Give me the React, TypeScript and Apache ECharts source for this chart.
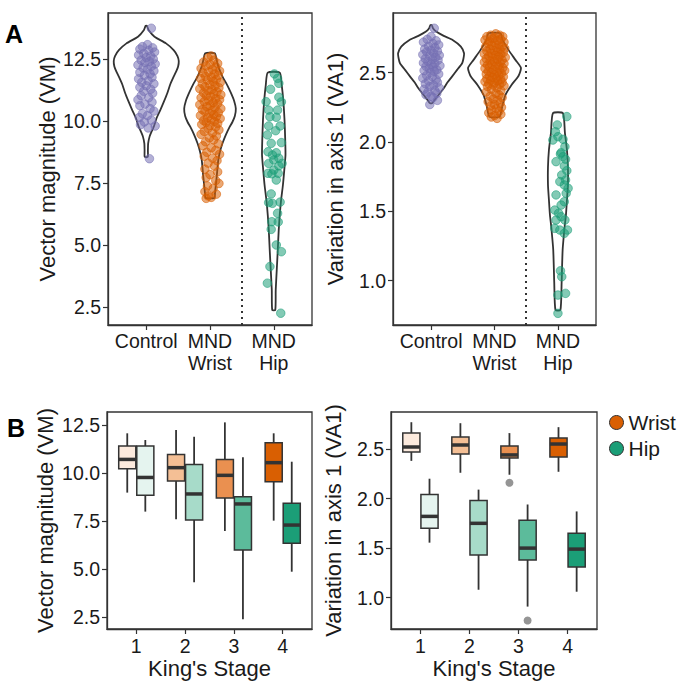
import React, { useEffect, useRef } from 'react';
import * as echarts from 'echarts';

// ---------- categories / ticks ----------
const groupLabels = ['Control', 'MND\nWrist', 'MND\nHip'];
const groupCenters = [1, 2, 3];
const vmTicks = [2.5, 5.0, 7.5, 10.0, 12.5];
const vaTicks = [1.0, 1.5, 2.0, 2.5];
const stageLabels = ['1', '2', '3', '4'];
const stages = [1, 2, 3, 4];

// ---------- violin outlines: [value, half-width in category units] ----------
const violinControlVM = [[13.84, 0.01], [13.67, 0.036], [13.4, 0.13], [13.13, 0.31], [12.86, 0.43], [12.62, 0.49], [12.42, 0.51], [12.2, 0.5], [12.0, 0.47], [11.79, 0.43], [11.5, 0.38], [11.12, 0.33], [10.8, 0.28], [10.44, 0.22], [10.1, 0.16], [9.77, 0.118], [9.55, 0.08], [9.37, 0.052], [9.1, 0.03], [8.8, 0.026], [8.55, 0.024]];
const violinWristVM = [[12.73, 0.075], [12.5, 0.1], [12.2, 0.13], [11.79, 0.196], [11.45, 0.27], [11.12, 0.33], [10.8, 0.38], [10.5, 0.405], [10.2, 0.39], [9.95, 0.35], [9.77, 0.31], [9.45, 0.25], [9.1, 0.196], [8.75, 0.155], [8.43, 0.13], [7.75, 0.105], [7.08, 0.078], [6.9, 0.07]];
const violinHipVM = [[11.95, 0.094], [11.45, 0.125], [10.85, 0.149], [10.04, 0.169], [9.23, 0.18], [8.63, 0.184], [8.02, 0.165], [7.42, 0.144], [6.81, 0.115], [6.21, 0.094], [5.6, 0.078], [4.79, 0.063], [3.99, 0.047], [3.19, 0.031], [2.38, 0.024]];
const violinControlVA = [[2.844, 0.01], [2.82, 0.03], [2.796, 0.08], [2.765, 0.2], [2.736, 0.34], [2.688, 0.47], [2.64, 0.52], [2.6, 0.51], [2.568, 0.49], [2.52, 0.41], [2.471, 0.33], [2.43, 0.26], [2.387, 0.2], [2.34, 0.12], [2.3, 0.05], [2.281, 0.02]];
const violinWristVA = [[2.784, 0.094], [2.736, 0.126], [2.664, 0.22], [2.592, 0.33], [2.534, 0.417], [2.476, 0.378], [2.411, 0.268], [2.339, 0.173], [2.267, 0.126], [2.183, 0.079]];
const violinHipVA = [[2.207, 0.079], [2.065, 0.11], [1.942, 0.142], [1.82, 0.157], [1.69, 0.157], [1.582, 0.142], [1.473, 0.126], [1.387, 0.105], [1.221, 0.074], [0.983, 0.058], [0.788, 0.039]];

// ---------- jittered points: [x offset from group centre, value] ----------
const controlVM = [[0.08, 13.74], [0.05, 8.48], [0.02, 13.08], [-0.06, 13.0], [0.1, 12.95], [-0.1, 12.9], [0.04, 12.85], [0.13, 12.78], [-0.04, 12.72], [-0.12, 12.66], [0.07, 12.62], [0.0, 12.56], [0.11, 12.5], [-0.08, 12.45], [0.05, 12.4], [-0.02, 12.36], [0.14, 12.3], [-0.13, 12.26], [0.08, 12.2], [-0.05, 12.14], [0.02, 12.08], [0.12, 12.02], [-0.1, 11.96], [0.06, 11.9], [-0.03, 11.84], [0.09, 11.76], [-0.12, 11.7], [0.03, 11.62], [-0.07, 11.56], [0.12, 11.5], [0.0, 11.42], [-0.1, 11.36], [0.07, 11.28], [-0.04, 11.2], [0.1, 11.12], [-0.08, 11.02], [0.04, 10.94], [-0.13, 10.86], [0.09, 10.76], [-0.02, 10.68], [-0.1, 10.62], [0.06, 10.5], [0.12, 10.4], [-0.06, 10.3], [0.02, 10.22], [-0.11, 10.14], [0.08, 10.04], [-0.03, 9.96], [0.14, 9.8], [-0.09, 9.85], [0.03, 9.72]];
const wristVM = [[0.02, 12.62], [-0.03, 12.55], [0.06, 12.45], [-0.1, 12.38], [0.12, 12.32], [0.0, 12.28], [-0.06, 12.22], [0.09, 12.18], [-0.14, 12.12], [0.04, 12.08], [0.15, 12.02], [-0.02, 11.98], [-0.11, 11.94], [0.07, 11.9], [0.13, 11.84], [-0.07, 11.8], [0.02, 11.76], [-0.15, 11.72], [0.1, 11.68], [-0.04, 11.64], [0.05, 11.6], [0.16, 11.55], [-0.12, 11.5], [0.0, 11.46], [0.08, 11.42], [-0.08, 11.38], [0.14, 11.34], [-0.16, 11.3], [0.03, 11.26], [-0.03, 11.22], [0.11, 11.18], [-0.1, 11.14], [0.06, 11.1], [0.17, 11.06], [-0.06, 11.02], [0.01, 10.98], [-0.14, 10.94], [0.09, 10.9], [0.15, 10.86], [-0.02, 10.82], [-0.09, 10.78], [0.05, 10.74], [0.12, 10.7], [-0.16, 10.66], [0.0, 10.62], [-0.05, 10.58], [0.08, 10.54], [0.17, 10.5], [-0.12, 10.46], [0.03, 10.42], [-0.08, 10.38], [0.13, 10.34], [-0.01, 10.3], [0.06, 10.26], [-0.15, 10.22], [0.1, 10.18], [-0.04, 10.14], [0.16, 10.1], [0.02, 10.06], [-0.1, 10.02], [0.07, 9.98], [-0.06, 9.94], [0.12, 9.9], [-0.13, 9.86], [0.0, 9.82], [0.09, 9.76], [-0.03, 9.7], [0.14, 9.64], [-0.09, 9.58], [0.04, 9.52], [-0.14, 9.46], [0.1, 9.4], [-0.01, 9.32], [0.06, 9.24], [-0.07, 9.16], [0.13, 9.08], [-0.11, 9.0], [0.02, 8.92], [0.09, 8.82], [-0.05, 8.74], [0.15, 8.66], [-0.09, 8.58], [0.04, 8.5], [0.11, 8.4], [-0.03, 8.3], [0.07, 8.18], [-0.08, 8.06], [0.12, 7.95], [0.0, 7.84], [-0.06, 7.72], [0.09, 7.6], [0.14, 7.48], [-0.04, 7.38], [0.05, 7.28], [-0.08, 7.15], [0.1, 7.05], [-0.03, 6.98], [-0.06, 6.88], [0.02, 6.92]];
const hipVM = [[0.01, 11.9], [0.06, 11.72], [0.08, 11.52], [-0.05, 11.28], [0.08, 10.96], [-0.12, 10.78], [0.12, 10.77], [-0.08, 10.44], [0.06, 10.44], [-0.06, 10.17], [0.04, 10.15], [-0.08, 9.8], [0.1, 9.8], [0.03, 9.61], [-0.1, 9.44], [-0.04, 9.1], [0.12, 9.13], [-0.09, 8.76], [0.04, 8.72], [-0.02, 8.63], [0.0, 8.43], [0.08, 8.5], [-0.08, 8.29], [0.13, 8.29], [0.08, 8.19], [0.0, 8.02], [-0.09, 7.89], [0.07, 7.89], [-0.03, 7.87], [0.04, 7.62], [-0.04, 7.06], [-0.08, 6.71], [0.1, 6.73], [-0.02, 6.68], [0.06, 6.28], [-0.03, 5.94], [0.07, 5.93], [-0.04, 5.63], [0.04, 5.0], [0.12, 4.73], [-0.06, 4.13], [-0.1, 3.46], [0.11, 2.25]];
const controlVA = [[0.05, 2.82], [-0.02, 2.27], [0.1, 2.3], [0.0, 2.76], [-0.06, 2.74], [0.08, 2.73], [-0.12, 2.72], [0.03, 2.71], [0.12, 2.7], [-0.04, 2.69], [0.06, 2.68], [-0.1, 2.67], [0.0, 2.66], [0.1, 2.655], [-0.07, 2.65], [0.04, 2.64], [-0.13, 2.63], [0.13, 2.625], [-0.02, 2.62], [0.07, 2.61], [-0.09, 2.6], [0.02, 2.595], [0.11, 2.59], [-0.05, 2.58], [-0.12, 2.57], [0.06, 2.565], [0.0, 2.56], [0.14, 2.55], [-0.08, 2.545], [0.03, 2.54], [-0.03, 2.53], [0.09, 2.52], [-0.11, 2.515], [0.05, 2.51], [-0.01, 2.5], [0.12, 2.49], [-0.07, 2.48], [0.02, 2.47], [-0.13, 2.46], [0.08, 2.45], [-0.04, 2.44], [0.1, 2.43], [-0.09, 2.42], [0.04, 2.41], [-0.02, 2.4], [0.13, 2.39], [-0.11, 2.38], [0.06, 2.37], [-0.05, 2.36], [0.09, 2.35], [0.0, 2.33], [-0.08, 2.34], [0.03, 2.32]];
const wristVA = [[0.02, 2.78], [-0.06, 2.77], [0.08, 2.77], [-0.12, 2.76], [0.13, 2.76], [0.0, 2.75], [-0.03, 2.745], [0.1, 2.74], [-0.15, 2.735], [0.05, 2.73], [-0.08, 2.725], [0.15, 2.72], [0.0, 2.715], [-0.1, 2.71], [0.07, 2.7], [-0.04, 2.695], [0.12, 2.69], [-0.14, 2.685], [0.03, 2.68], [0.16, 2.675], [-0.07, 2.67], [0.09, 2.665], [-0.01, 2.66], [-0.12, 2.655], [0.05, 2.65], [0.14, 2.645], [-0.05, 2.64], [-0.16, 2.635], [0.1, 2.63], [0.01, 2.625], [-0.09, 2.62], [0.07, 2.615], [0.17, 2.61], [-0.03, 2.605], [-0.13, 2.6], [0.04, 2.595], [0.12, 2.59], [-0.07, 2.585], [0.0, 2.58], [-0.16, 2.575], [0.09, 2.57], [0.15, 2.565], [-0.04, 2.56], [-0.11, 2.555], [0.06, 2.55], [0.02, 2.545], [-0.08, 2.54], [0.13, 2.535], [-0.15, 2.53], [0.08, 2.525], [-0.02, 2.52], [0.16, 2.515], [-0.1, 2.51], [0.04, 2.505], [-0.05, 2.5], [0.11, 2.495], [-0.13, 2.49], [0.0, 2.485], [0.07, 2.48], [-0.08, 2.475], [0.14, 2.47], [-0.03, 2.465], [0.03, 2.46], [-0.12, 2.455], [0.1, 2.45], [-0.06, 2.445], [0.05, 2.44], [-0.15, 2.435], [0.12, 2.43], [0.0, 2.425], [-0.09, 2.42], [0.08, 2.415], [-0.02, 2.41], [0.15, 2.405], [-0.11, 2.4], [0.04, 2.39], [-0.05, 2.38], [0.1, 2.37], [-0.13, 2.36], [0.02, 2.35], [0.07, 2.34], [-0.07, 2.33], [0.12, 2.32], [-0.02, 2.31], [0.05, 2.3], [-0.1, 2.29], [0.09, 2.28], [0.0, 2.27], [-0.06, 2.26], [0.11, 2.25], [0.03, 2.24], [-0.04, 2.23], [0.07, 2.22], [-0.09, 2.21], [0.1, 2.2], [0.0, 2.19], [-0.05, 2.18], [0.04, 2.17]];
const hipVA = [[0.14, 2.183], [-0.01, 2.123], [-0.04, 2.074], [0.0, 2.038], [0.08, 2.019], [-0.08, 2.014], [0.11, 1.966], [0.05, 1.923], [0.04, 1.913], [0.08, 1.894], [0.12, 1.875], [-0.03, 1.858], [0.1, 1.827], [0.14, 1.793], [0.06, 1.762], [0.12, 1.726], [0.03, 1.714], [0.1, 1.69], [0.16, 1.666], [0.13, 1.63], [-0.03, 1.618], [0.1, 1.569], [0.05, 1.545], [-0.05, 1.509], [0.01, 1.486], [0.05, 1.461], [0.11, 1.437], [-0.03, 1.437], [-0.05, 1.377], [0.03, 1.365], [0.15, 1.365], [0.1, 1.341], [0.04, 1.071], [0.06, 1.028], [0.0, 0.896], [0.12, 0.908], [0.0, 0.764]];

// ---------- box plots by King's stage ----------
const wristVMMin = [8.98, 7.59, 6.98, 7.52];
const wristVMQ1 = [10.23, 9.58, 8.7, 9.55];
const wristVMMed = [10.71, 10.28, 9.88, 10.54];
const wristVMQ3 = [11.41, 10.97, 10.71, 11.58];
const wristVMMax = [12.07, 12.24, 12.64, 12.07];
const hipVMMin = [7.99, 4.31, 2.38, 4.86];
const hipVMQ1 = [8.84, 7.55, 5.99, 6.34];
const hipVMMed = [9.77, 8.91, 8.39, 7.29];
const hipVMQ3 = [11.41, 10.45, 8.77, 8.42];
const hipVMMax = [11.72, 11.89, 10.82, 10.59];
const wristVAMin = [2.38, 2.26, 2.24, 2.27];
const wristVAQ1 = [2.47, 2.45, 2.41, 2.42];
const wristVAMed = [2.52, 2.54, 2.44, 2.55];
const wristVAQ3 = [2.66, 2.62, 2.53, 2.61];
const wristVAMax = [2.77, 2.76, 2.66, 2.72];
const hipVAMin = [1.555, 1.08, 0.91, 1.06];
const hipVAQ1 = [1.7, 1.43, 1.38, 1.31];
const hipVAMed = [1.82, 1.75, 1.5, 1.49];
const hipVAQ3 = [2.04, 1.98, 1.78, 1.65];
const hipVAMax = [2.2, 2.09, 1.94, 1.87];
const wristVAOutliers = [[3, 2.16]];
const hipVAOutliers = [[3, 0.77]];

// ---------- styles ----------
const FONT = '"Liberation Sans", Arial, sans-serif';
const INK = '#1a1a1a';
const LINE = '#333333';
const C_CONTROL = '#7570B3';
const C_WRIST = '#D95F02';
const C_HIP = '#1B9E77';
const wristFills = ['#FCEADD', '#F4BF95', '#EA9050', '#D95F02'];
const hipFills = ['#E5F4EF', '#A7DBC9', '#5CBB9B', '#1B9E77'];
const DODGE = 0.185;
const BOX_W = 0.35;

function hexA(hex: string, a: number) {
  const n = parseInt(hex.slice(1), 16);
  return `rgba(${(n >> 16) & 255},${(n >> 8) & 255},${n & 255},${a})`;
}

function xAxisGroups(gi: number) {
  return {
    type: 'value', gridIndex: gi, min: 0.4, max: 3.6,
    splitLine: { show: false },
    axisLine: { show: true, lineStyle: { color: LINE, width: 1.3 } },
    axisTick: { show: true, length: 5, customValues: groupCenters, lineStyle: { color: LINE, width: 1.2 } },
    axisLabel: {
      customValues: groupCenters, margin: 5, fontSize: 19.5, lineHeight: 22, color: INK, fontFamily: FONT,
      verticalAlign: 'top',
      formatter: (v: number) => groupLabels[Math.round(v) - 1] || '',
    },
  };
}
function xAxisStages(gi: number) {
  return {
    type: 'value', gridIndex: gi, min: 0.4, max: 4.6,
    splitLine: { show: false },
    axisLine: { show: true, lineStyle: { color: LINE, width: 1.3 } },
    axisTick: { show: true, length: 5, customValues: stages, lineStyle: { color: LINE, width: 1.2 } },
    axisLabel: {
      customValues: stages, margin: 7, fontSize: 19.5, color: INK, fontFamily: FONT,
      formatter: (v: number) => stageLabels[Math.round(v) - 1] || '',
    },
    name: "King's Stage", nameLocation: 'middle', nameGap: 28,
    nameTextStyle: { fontSize: 22, color: INK, fontFamily: FONT },
  };
}
function yAxis(gi: number, min: number, max: number, ticks: number[], name: string, gap: number) {
  return {
    type: 'value', gridIndex: gi, min, max,
    splitLine: { show: false },
    axisLine: { show: true, lineStyle: { color: LINE, width: 1.3 } },
    axisTick: { show: true, length: 5, customValues: ticks, lineStyle: { color: LINE, width: 1.2 } },
    axisLabel: {
      customValues: ticks, margin: 7, fontSize: 19.5, color: INK, fontFamily: FONT,
      formatter: (v: number) => v.toFixed(1),
    },
    name, nameLocation: 'middle', nameGap: gap,
    nameTextStyle: { fontSize: 22, color: INK, fontFamily: FONT, lineHeight: 24 },
  };
}

function violinSeries(profile: number[][], center: number, idx: number) {
  return {
    type: 'custom', xAxisIndex: idx, yAxisIndex: idx, silent: true, clip: true, z: 2,
    data: [[center, profile[0][0]]],
    renderItem: (_p: any, api: any) => {
      const c = api.value(0);
      const left = profile.map(([v, h]) => api.coord([c - h, v]));
      const right = profile.slice().reverse().map(([v, h]) => api.coord([c + h, v]));
      return {
        type: 'polygon',
        shape: { points: left.concat(right), smooth: 0.2 },
        style: { fill: 'none', stroke: LINE, lineWidth: 1.8 },
      };
    },
  };
}

function pointSeries(pts: number[][], center: number, color: string, idx: number, markLine?: boolean) {
  const s: any = {
    type: 'scatter', xAxisIndex: idx, yAxisIndex: idx, silent: true, z: 3,
    symbolSize: 8.5,
    itemStyle: { color: hexA(color, 0.68), borderColor: hexA(color, 0.9), borderWidth: 0.8 },
    data: pts.map(([o, v]) => [center + o, v]),
  };
  if (markLine) {
    s.markLine = {
      symbol: 'none', silent: true, label: { show: false },
      lineStyle: { color: LINE, width: 2, type: [2, 4] },
      data: [{ xAxis: 2.5 }],
    };
  }
  return s;
}

function boxSeries(name: string, mins: number[], q1s: number[], meds: number[], q3s: number[], maxs: number[],
  fills: string[], offset: number, idx: number, base: string) {
  return {
    type: 'custom', name, xAxisIndex: idx, yAxisIndex: idx, clip: true, z: 2,
    itemStyle: { color: base, borderColor: LINE, borderWidth: 1 },
    encode: { x: 0, y: [1, 2, 3, 4, 5] },
    data: stages.map((s, i) => [s, mins[i], q1s[i], meds[i], q3s[i], maxs[i], i]),
    renderItem: (_p: any, api: any) => {
      const x = api.value(0) + offset;
      const pMin = api.coord([x, api.value(1)]);
      const pQ1 = api.coord([x, api.value(2)]);
      const pMed = api.coord([x, api.value(3)]);
      const pQ3 = api.coord([x, api.value(4)]);
      const pMax = api.coord([x, api.value(5)]);
      const w = api.size([BOX_W, 0])[0];
      const fill = fills[api.value(6)];
      return {
        type: 'group',
        children: [
          { type: 'line', shape: { x1: pMin[0], y1: pMin[1], x2: pMax[0], y2: pMax[1] }, style: { stroke: LINE, lineWidth: 1.8 } },
          { type: 'rect', shape: { x: pQ3[0] - w / 2, y: pQ3[1], width: w, height: pQ1[1] - pQ3[1] }, style: { fill, stroke: LINE, lineWidth: 1.5 } },
          { type: 'line', shape: { x1: pMed[0] - w / 2, y1: pMed[1], x2: pMed[0] + w / 2, y2: pMed[1] }, style: { stroke: LINE, lineWidth: 3.5 } },
        ],
      };
    },
  };
}

function outlierSeries(pts: number[][], offset: number, idx: number) {
  return {
    type: 'scatter', xAxisIndex: idx, yAxisIndex: idx, silent: true, z: 4,
    symbolSize: 8, itemStyle: { color: '#7a7a7a' },
    data: pts.map(([s, v]) => [s + offset, v]),
  };
}

export default function App() {
  const ref = useRef<HTMLDivElement>(null);
  useEffect(() => {
    if (!ref.current) return;
    const chart = echarts.init(ref.current, undefined, { renderer: 'svg' });
    const gridBase = { show: true, borderColor: LINE, borderWidth: 1.3, backgroundColor: 'transparent', containLabel: false };
    chart.setOption({
      animation: false,
      textStyle: { fontFamily: FONT },
      grid: [
        { ...gridBase, left: 108, top: 13, width: 204, height: 312 },
        { ...gridBase, left: 393, top: 13, width: 203, height: 312 },
        { ...gridBase, left: 107, top: 412, width: 205, height: 217 },
        { ...gridBase, left: 391, top: 412, width: 206, height: 217 },
      ],
      xAxis: [xAxisGroups(0), xAxisGroups(1), xAxisStages(2), xAxisStages(3)],
      yAxis: [
        yAxis(0, 1.774, 14.355, vmTicks, 'Vector magnitude (VM)', 49),
        yAxis(1, 0.68, 2.93, vaTicks, 'Variation in axis 1 (VA1)', 46),
        yAxis(2, 1.875, 13.18, vmTicks, 'Vector magnitude (VM)', 50),
        yAxis(3, 0.684, 2.873, vaTicks, 'Variation in axis 1 (VA1)', 46),
      ],
      legend: {
        orient: 'vertical', left: 609, top: 412, padding: 0, itemGap: 5,
        itemWidth: 14, itemHeight: 14, selectedMode: false,
        itemStyle: { borderColor: LINE, borderWidth: 1 },
        textStyle: { fontSize: 21, color: INK, fontFamily: FONT },
        data: [{ name: 'Wrist', icon: 'circle' }, { name: 'Hip', icon: 'circle' }],
      },
      graphic: [
        { type: 'text', style: { text: 'A', x: 5, y: 33.5, verticalAlign: 'middle', font: `bold 25px ${FONT}`, fill: '#000' } },
        { type: 'text', style: { text: 'B', x: 7, y: 427.5, verticalAlign: 'middle', font: `bold 25px ${FONT}`, fill: '#000' } },
      ],
      series: [
        violinSeries(violinControlVM, 1, 0),
        violinSeries(violinWristVM, 2, 0),
        violinSeries(violinHipVM, 3, 0),
        pointSeries(controlVM, 1, C_CONTROL, 0, true),
        pointSeries(wristVM, 2, C_WRIST, 0),
        pointSeries(hipVM, 3, C_HIP, 0),
        violinSeries(violinControlVA, 1, 1),
        violinSeries(violinWristVA, 2, 1),
        violinSeries(violinHipVA, 3, 1),
        pointSeries(controlVA, 1, C_CONTROL, 1, true),
        pointSeries(wristVA, 2, C_WRIST, 1),
        pointSeries(hipVA, 3, C_HIP, 1),
        boxSeries('Wrist', wristVMMin, wristVMQ1, wristVMMed, wristVMQ3, wristVMMax, wristFills, -DODGE, 2, C_WRIST),
        boxSeries('Hip', hipVMMin, hipVMQ1, hipVMMed, hipVMQ3, hipVMMax, hipFills, DODGE, 2, C_HIP),
        boxSeries('Wrist', wristVAMin, wristVAQ1, wristVAMed, wristVAQ3, wristVAMax, wristFills, -DODGE, 3, C_WRIST),
        boxSeries('Hip', hipVAMin, hipVAQ1, hipVAMed, hipVAQ3, hipVAMax, hipFills, DODGE, 3, C_HIP),
        outlierSeries(wristVAOutliers, -DODGE, 3),
        outlierSeries(hipVAOutliers, DODGE, 3),
      ],
    });
    return () => chart.dispose();
  }, []);
  return <div ref={ref} style={{ position: 'absolute', left: 0, top: 0, width: 685, height: 691, background: '#fff' }} />;
}
